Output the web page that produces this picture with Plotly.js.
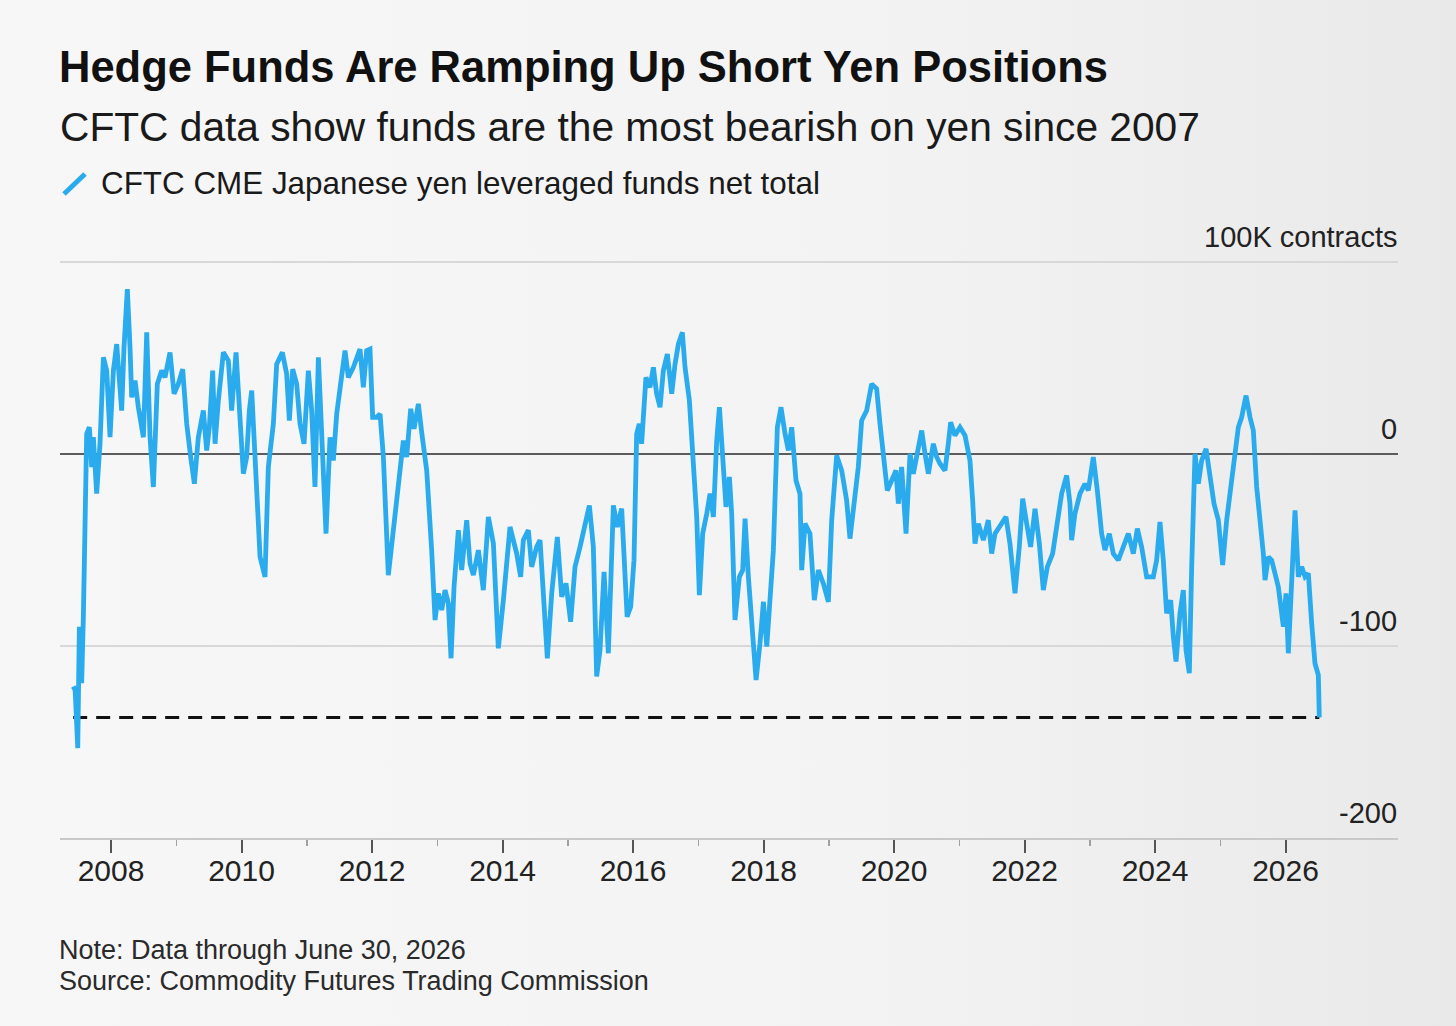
<!DOCTYPE html>
<html>
<head>
<meta charset="utf-8">
<script src="https://cdn.plot.ly/plotly-3.0.1.min.js"></script>
<style>
  html, body { margin:0; padding:0; }
  body { width:1456px; height:1026px; background: linear-gradient(to right, #f7f7f7 0%, #f3f3f3 60%, #e9e9e9 100%); }
  #chart { width:1456px; height:1026px; }
</style>
</head>
<body>
<div id="chart"></div>
<script>
// Decimal years (weekly CFTC observations, sampled)
const years = [
  2007.420,2007.450,2007.490,2007.515,2007.550,2007.576,2007.627,2007.668,2007.704,2007.729,
  2007.780,2007.831,2007.883,2007.934,2007.985,2008.036,2008.087,2008.138,2008.163,2008.199,
  2008.250,2008.291,2008.317,2008.368,2008.419,2008.496,2008.547,2008.598,2008.649,2008.710,
  2008.777,2008.828,2008.904,2008.966,2009.032,2009.098,2009.160,2009.221,2009.277,2009.338,
  2009.415,2009.466,2009.507,2009.558,2009.594,2009.645,2009.722,2009.798,2009.849,2009.916,
  2009.967,2010.028,2010.079,2010.120,2010.156,2010.207,2010.284,2010.360,2010.411,2010.488,
  2010.539,2010.626,2010.692,2010.733,2010.784,2010.845,2010.897,2010.958,2011.024,2011.075,
  2011.126,2011.178,2011.229,2011.295,2011.356,2011.407,2011.459,2011.520,2011.586,2011.637,
  2011.714,2011.816,2011.867,2011.918,2011.969,2012.010,2012.072,2012.123,2012.174,2012.250,
  2012.327,2012.429,2012.480,2012.531,2012.593,2012.644,2012.710,2012.761,2012.838,2012.914,
  2012.966,2013.017,2013.068,2013.119,2013.170,2013.211,2013.257,2013.323,2013.374,2013.451,
  2013.502,2013.553,2013.630,2013.706,2013.783,2013.860,2013.936,2014.013,2014.115,2014.217,
  2014.278,2014.319,2014.396,2014.447,2014.523,2014.575,2014.626,2014.687,2014.754,2014.840,
  2014.907,2014.973,2015.044,2015.111,2015.188,2015.264,2015.331,2015.392,2015.443,2015.494,
  2015.556,2015.622,2015.699,2015.760,2015.826,2015.910,2015.964,2016.015,2016.056,2016.096,
  2016.132,2016.198,2016.260,2016.312,2016.362,2016.414,2016.465,2016.526,2016.593,2016.644,
  2016.695,2016.756,2016.797,2016.864,2016.925,2016.976,2017.017,2017.068,2017.130,2017.181,
  2017.232,2017.283,2017.324,2017.375,2017.425,2017.477,2017.512,2017.563,2017.630,2017.681,
  2017.717,2017.768,2017.820,2017.886,2017.946,2017.999,2018.050,2018.100,2018.151,2018.212,
  2018.268,2018.330,2018.381,2018.432,2018.498,2018.559,2018.585,2018.636,2018.712,2018.779,
  2018.840,2018.917,2018.994,2019.045,2019.121,2019.198,2019.274,2019.325,2019.402,2019.453,
  2019.504,2019.581,2019.657,2019.734,2019.785,2019.836,2019.897,2019.964,2020.030,2020.066,
  2020.117,2020.184,2020.245,2020.296,2020.357,2020.424,2020.475,2020.526,2020.603,2020.654,
  2020.705,2020.781,2020.832,2020.868,2020.934,2021.011,2021.088,2021.164,2021.205,2021.241,
  2021.292,2021.369,2021.445,2021.497,2021.548,2021.624,2021.716,2021.777,2021.854,2021.920,
  2021.972,2022.033,2022.094,2022.161,2022.227,2022.288,2022.350,2022.431,2022.492,2022.569,
  2022.646,2022.697,2022.722,2022.773,2022.850,2022.927,2022.978,2023.054,2023.116,2023.182,
  2023.233,2023.300,2023.361,2023.438,2023.514,2023.591,2023.668,2023.729,2023.795,2023.872,
  2023.974,2024.025,2024.076,2024.127,2024.178,2024.240,2024.281,2024.322,2024.383,2024.434,
  2024.475,2024.526,2024.562,2024.613,2024.664,2024.715,2024.782,2024.843,2024.904,2024.971,
  2025.037,2025.098,2025.175,2025.226,2025.277,2025.328,2025.395,2025.456,2025.507,2025.558,
  2025.609,2025.660,2025.686,2025.737,2025.788,2025.839,2025.890,2025.967,2026.008,2026.043,
  2026.094,2026.146,2026.197,2026.248,2026.299,2026.350,2026.401,2026.452,2026.503,2026.518
];

// Net total, thousands of contracts
const netTotal = [
  -121.1,-122.9,-153.2,-90.0,-119.4,-84.8,10.5,13.9,-6.8,8.7,
  -20.7,5.3,50.3,43.4,8.7,43.4,57.2,36.5,22.6,55.5,
  85.8,55.5,29.5,38.2,24.3,8.7,63.3,8.7,-17.2,36.5,
  43.4,39.9,52.9,31.3,36.5,44.2,15.7,-1.6,-15.5,8.7,
  22.6,1.8,13.9,43.4,5.3,27.8,52.9,48.6,22.6,52.9,
  22.6,-10.3,-1.6,22.6,33.0,1.8,-53.6,-64.0,-6.8,15.7,
  46.8,52.9,41.6,17.4,44.2,36.5,15.7,5.3,43.4,22.6,
  -17.2,50.3,13.9,-41.5,8.7,-3.4,20.9,36.5,53.8,39.9,
  45.1,54.6,34.7,53.8,54.6,19.1,19.1,20.9,-1.6,-63.1,
  -39.7,-8.6,7.0,-1.6,23.5,13.1,26.1,11.3,-8.6,-50.1,
  -86.5,-72.6,-81.3,-70.9,-77.8,-106.4,-69.2,-39.7,-60.5,-34.5,
  -57.1,-63.1,-50.1,-70.9,-32.8,-46.7,-101.2,-76.1,-38.0,-51.9,
  -64.0,-44.9,-39.7,-58.8,-48.4,-44.9,-74.4,-106.4,-72.6,-43.2,
  -74.4,-67.4,-87.4,-58.8,-48.4,-38.0,-26.8,-48.4,-115.9,-102.1,
  -61.4,-103.8,-26.8,-38.0,-28.5,-84.8,-79.6,-55.3,10.5,15.7,
  5.3,39.9,34.7,45.1,31.3,24.3,43.4,52.0,31.3,46.8,
  57.2,63.3,45.1,27.8,-3.4,-32.8,-73.5,-41.5,-31.1,-20.7,
  -32.8,7.0,24.3,-6.8,-27.6,-12.0,-31.1,-86.5,-64.0,-60.5,
  -33.7,-64.0,-84.8,-117.7,-98.6,-77.0,-100.3,-76.1,-50.1,13.9,
  24.3,10.5,1.8,13.9,-13.8,-20.7,-60.5,-36.3,-41.5,-76.1,
  -60.5,-67.4,-77.0,-34.5,-0.8,-8.6,-24.2,-44.1,-22.4,-6.8,
  17.4,22.6,36.5,33.9,15.7,-1.6,-19.0,-13.8,-8.6,-25.9,
  -6.8,-41.5,0.1,-10.3,0.1,12.2,0.1,-10.3,5.3,-1.6,
  -5.1,-8.6,5.3,16.5,9.6,13.9,9.6,-3.4,-24.2,-46.7,
  -36.3,-44.9,-34.5,-51.9,-41.5,-38.0,-32.8,-46.7,-72.6,-48.4,
  -23.3,-36.3,-48.4,-28.5,-46.7,-70.9,-58.8,-51.9,-38.0,-20.7,
  -11.2,-25.9,-44.9,-31.1,-20.7,-15.5,-19.0,-1.6,-19.0,-41.5,
  -50.1,-41.5,-51.9,-55.3,-48.4,-41.5,-51.9,-38.9,-48.4,-64.0,
  -64.0,-55.3,-35.4,-55.3,-83.0,-76.1,-95.2,-108.1,-83.0,-70.9,
  -102.1,-114.2,-58.8,0.1,-15.5,-3.4,2.7,-12.0,-25.9,-34.5,
  -57.9,-34.5,-12.0,0.1,13.9,19.1,30.4,19.1,12.2,-17.2,
  -32.8,-51.9,-65.7,-53.6,-55.3,-62.2,-69.2,-90.0,-72.6,-103.8,
  -62.2,-29.4,-64.0,-58.8,-64.0,-62.2,-88.3,-109.1,-115.1,-137.2
];

const xTickYears = [2008,2010,2012,2014,2016,2018,2020,2022,2024,2026];
const xMinorYears = [2009,2011,2013,2015,2017,2019,2021,2023,2025];
const yTickVals = [-200,-100,0,100];
const yTickText = ['-200','-100','0','100K contracts'];

const seriesName = 'CFTC CME Japanese yen leveraged funds net total';
const titleText = 'Hedge Funds Are Ramping Up Short Yen Positions';
const subtitleText = 'CFTC data show funds are the most bearish on yen since 2007';
const noteText = 'Note: Data through June 30, 2026';
const sourceText = 'Source: Commodity Futures Trading Commission';

const BLUE = '#2aabee';
const FONT = 'Liberation Sans, Arial, Helvetica, sans-serif';

const lastVal = netTotal[netTotal.length - 1];

const traces = [
  {
    x: [years[0], years[years.length - 1]],
    y: [lastVal, lastVal],
    type: 'scatter', mode: 'lines',
    line: { color: '#111', width: 3, dash: '14px,9px' },
    hoverinfo: 'skip', showlegend: false
  },
  {
    x: years, y: netTotal,
    type: 'scatter', mode: 'lines', name: seriesName,
    line: { color: BLUE, width: 4.8, shape: 'linear' },
    showlegend: false
  }
];

// pixel helpers for paper placement of text
const L = 60, R = 58, T = 260, B = 188, W = 1456, H = 1026;
const pw = W - L - R, ph = H - T - B;
const px = v => (v - L) / pw;
const py = v => (H - B - v) / ph;

const yLabelAnnotations = yTickVals.map((v, i) => ({
  text: yTickText[i], xref: 'paper', yref: 'y', x: 1, y: v,
  xanchor: 'right', yanchor: 'middle', yshift: 25, xshift: 1, showarrow: false,
  font: { family: FONT, size: 29, color: '#222' }
}));

const layout = {
  width: W, height: H,
  margin: { l: L, r: R, t: T, b: B, pad: 0 },
  paper_bgcolor: 'rgba(0,0,0,0)',
  plot_bgcolor: 'rgba(0,0,0,0)',
  font: { family: FONT, color: '#1a1a1a' },
  title: {
    text: '<b>' + titleText + '</b>',
    xref: 'container', yref: 'container',
    x: 59 / W, xanchor: 'left',
    y: 1 - 67 / H, yanchor: 'middle',
    font: { family: FONT, size: 43.5, color: '#111' }
  },
  xaxis: {
    type: 'linear',
    range: [2007.218, 2027.724],
    tickvals: xTickYears,
    ticktext: xTickYears.map(String),
    showgrid: false, zeroline: false,
    showline: true, linecolor: '#c8c8c8', linewidth: 2,
    ticks: 'outside', ticklen: 13, tickwidth: 2, tickcolor: '#555',
    ticklabelstandoff: -8,
    minor: { tickvals: xMinorYears, ticks: 'outside', ticklen: 6, tickwidth: 1.5, tickcolor: '#a0a0a0', showgrid: false },
    tickfont: { family: FONT, size: 30, color: '#222' },
    fixedrange: true
  },
  yaxis: {
    range: [-200, 101],
    side: 'right',
    tickvals: yTickVals,
    showticklabels: false,
    ticks: '',
    showgrid: true, gridcolor: '#d8d8d8', gridwidth: 2,
    zeroline: true, zerolinecolor: '#5c5c5c', zerolinewidth: 2,
    showline: false,
    fixedrange: true
  },
  shapes: [
    { type: 'line', xref: 'paper', yref: 'paper',
      x0: px(64), y0: py(194), x1: px(85), y1: py(174),
      line: { color: BLUE, width: 5 } }
  ],
  annotations: [
    { text: subtitleText, xref: 'paper', yref: 'paper', x: px(58), y: py(127),
      xanchor: 'left', yanchor: 'middle', showarrow: false,
      font: { family: FONT, size: 40.7, color: '#1a1a1a' } },
    { text: seriesName, xref: 'paper', yref: 'paper', x: px(99), y: py(183),
      xanchor: 'left', yanchor: 'middle', showarrow: false,
      font: { family: FONT, size: 31.4, color: '#1a1a1a' } },
    { text: noteText, xref: 'paper', yref: 'paper', x: px(57), y: py(950),
      xanchor: 'left', yanchor: 'middle', showarrow: false,
      font: { family: FONT, size: 27, color: '#2a2a2a' } },
    { text: sourceText, xref: 'paper', yref: 'paper', x: px(57), y: py(981),
      xanchor: 'left', yanchor: 'middle', showarrow: false,
      font: { family: FONT, size: 27, color: '#2a2a2a' } }
  ].concat(yLabelAnnotations),
  showlegend: false
};

Plotly.newPlot('chart', traces, layout, { displayModeBar: false, staticPlot: true });
</script>
</body>
</html>
